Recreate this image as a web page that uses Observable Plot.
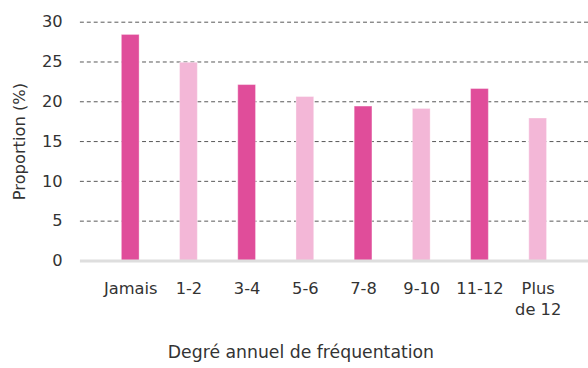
<!DOCTYPE html>
<html>
<head>
<meta charset="utf-8">
<script src="https://cdn.jsdelivr.net/npm/d3@7"></script>
<script src="https://cdn.jsdelivr.net/npm/@observablehq/plot@0.6"></script>
<style>
  html, body { margin: 0; padding: 0; background: #fff; overflow: hidden; }
  #chart { width: 588px; height: 368px; overflow: hidden; }
  #chart svg { display: block; }
</style>
</head>
<body>
<div id="chart"></div>
<script>
// Fréquentation annuelle : part des répondants par tranche de visites
const categories = ["Jamais", "1-2", "3-4", "5-6", "7-8", "9-10", "11-12", "Plus de 12"];
const tickLabels = ["Jamais", "1-2", "3-4", "5-6", "7-8", "9-10", "11-12", "Plus\nde 12"];
const proportions = [28.4, 24.9, 22.1, 20.6, 19.4, 19.1, 21.6, 17.9];
const shades = ["fort", "clair", "fort", "clair", "fort", "clair", "fort", "clair"];
const yTicks = [0, 5, 10, 15, 20, 25, 30];

const data = categories.map((c, i) => ({categorie: c, proportion: proportions[i], teinte: shades[i]}));
const labelOf = new Map(categories.map((c, i) => [c, tickLabels[i]]));

const font = "'DejaVu Sans', sans-serif";

const chart = Plot.plot({
  width: 596,
  height: 368,
  marginLeft: 81,
  marginRight: 0,
  marginTop: 22,
  marginBottom: 104,
  style: {fontFamily: font, fontSize: "16px", color: "#333", background: "#fff"},
  x: {domain: categories, padding: 0.69, label: null},
  y: {domain: [0, 30], label: null},
  color: {domain: ["fort", "clair"], range: ["#e04d9a", "#f3b7d7"]},
  marks: [
    Plot.ruleY(yTicks.filter(d => d > 0), {stroke: "#555", strokeWidth: 1, strokeDasharray: "4,3"}),
    Plot.barY(data, {x: "categorie", y: "proportion", fill: "teinte", stroke: "#fff", strokeOpacity: 0.35, strokeWidth: 1}),
    Plot.ruleY([0], {stroke: "#dedede", strokeWidth: 3}),
    Plot.axisY({ticks: yTicks, tickSize: 0, tickPadding: 18, fontSize: 16.5, fill: "#333",
      label: "Proportion (%)", labelAnchor: "center", labelArrow: "none", labelOffset: 68}),
    Plot.axisX({tickSize: 0, tickPadding: 18, fontSize: 16.5, lineHeight: 1.3, fill: "#333",
      tickFormat: d => labelOf.get(d), label: null}),
    Plot.text(["Degré annuel de fréquentation"], {frameAnchor: "bottom", lineAnchor: "middle", dy: 93, dx: -34,
      fontSize: 17.5, fill: "#333", text: d => d})
  ]
});

document.getElementById("chart").append(chart);
</script>
</body>
</html>
